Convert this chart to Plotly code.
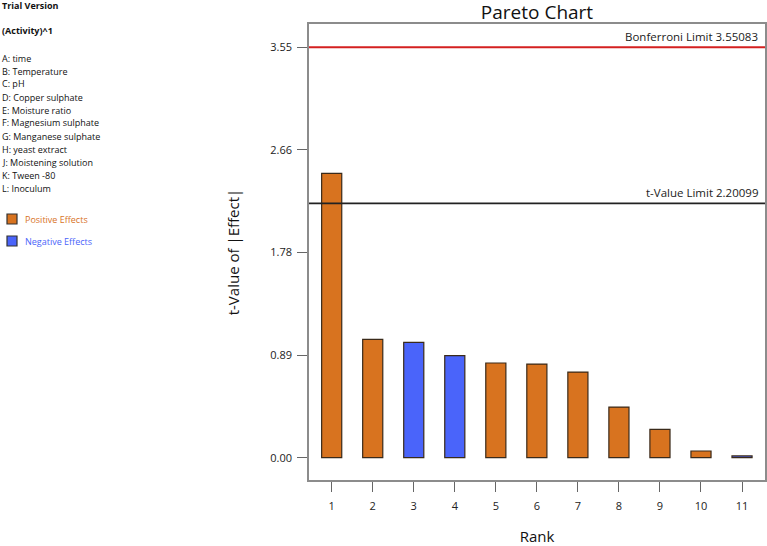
import plotly.graph_objects as go

# ---- data ----
ranks = [1, 2, 3, 4, 5, 6, 7, 8, 9, 10, 11]
t_values = [2.460, 1.024, 0.998, 0.883, 0.819, 0.810, 0.741, 0.438, 0.245, 0.058, 0.015]
effect_sign = ["pos", "pos", "neg", "neg", "pos", "pos", "pos", "pos", "pos", "pos", "neg"]
bonferroni_limit = 3.55083
t_value_limit = 2.20099
ytick_vals = [0.0, 0.887708, 1.775415, 2.663123, 3.55083]
ytick_text = ["0.00", "0.89", "1.78", "2.66", "3.55"]
factor_labels = ["A: time", "B: Temperature", "C: pH", "D: Copper sulphate",
                 "E: Moisture ratio", "F: Magnesium sulphate", "G: Manganese sulphate",
                 "H: yeast extract", "J: Moistening solution", "K: Tween -80", "L: Inoculum"]

ORANGE = "#D8731F"
BLUE = "#4A64FA"
FONT = "Open Sans"

W, H = 767, 546
ML, MR, MT, MB = 309, 2, 24, 66
PW, PH = W - ML - MR, H - MT - MB


def px(x):
    return (x - ML) / PW


def py(y):
    return (H - MB - y) / PH


colors = [ORANGE if s == "pos" else BLUE for s in effect_sign]

fig = go.Figure()
fig.add_trace(go.Bar(x=ranks, y=t_values, width=0.49,
                     marker=dict(color=colors, line=dict(color="#3a2a1a", width=1.2)),
                     showlegend=False, hoverinfo="skip"))

fig.add_hline(y=bonferroni_limit, line=dict(color="#D42020", width=2))
fig.add_hline(y=t_value_limit, line=dict(color="#222222", width=1.8))

annotations = [
    dict(x=1, xref="paper", y=bonferroni_limit, yref="y", xanchor="right", yanchor="bottom",
         text="Bonferroni Limit %.5f" % bonferroni_limit, showarrow=False, xshift=-5, yshift=1,
         font=dict(family=FONT, size=11.5, color="#222")),
    dict(x=1, xref="paper", y=t_value_limit, yref="y", xanchor="right", yanchor="bottom",
         text="t-Value Limit %.5f" % t_value_limit, showarrow=False, xshift=-5, yshift=1,
         font=dict(family=FONT, size=11.5, color="#222")),
    dict(x=px(0), xref="paper", y=py(6), yref="paper", xanchor="left", yanchor="middle",
         text="<b>Trial Version</b>", showarrow=False, font=dict(family=FONT, size=9, color="#111")),
    dict(x=px(0), xref="paper", y=py(31), yref="paper", xanchor="left", yanchor="middle",
         text="<b>(Activity)^1</b>", showarrow=False, font=dict(family=FONT, size=9, color="#111")),
]
for i, lab in enumerate(factor_labels):
    annotations.append(dict(x=px(0), xref="paper", y=py(58 + 13 * i), yref="paper",
                            xanchor="left", yanchor="middle", text=lab, showarrow=False,
                            font=dict(family=FONT, size=9, color="#111")))
annotations.append(dict(x=px(23), xref="paper", y=py(219), yref="paper", xanchor="left",
                        yanchor="middle", text="Positive Effects", showarrow=False,
                        font=dict(family=FONT, size=9, color=ORANGE)))
annotations.append(dict(x=px(23), xref="paper", y=py(241), yref="paper", xanchor="left",
                        yanchor="middle", text="Negative Effects", showarrow=False,
                        font=dict(family=FONT, size=9, color=BLUE)))

shapes = [
    dict(type="rect", xref="paper", yref="paper", x0=px(7), x1=px(17), y0=py(224), y1=py(214),
         fillcolor=ORANGE, line=dict(color="#333", width=1.2)),
    dict(type="rect", xref="paper", yref="paper", x0=px(7), x1=px(17), y0=py(246), y1=py(236),
         fillcolor=BLUE, line=dict(color="#333", width=1.2)),
]
for s in shapes:
    fig.add_shape(**s)

fig.update_layout(
    width=W, height=H,
    margin=dict(l=ML, r=MR, t=MT, b=MB, autoexpand=False),
    paper_bgcolor="white", plot_bgcolor="white",
    font=dict(family=FONT, color="#222"),
    title=dict(text="Pareto Chart", xref="paper", x=0.5, xanchor="center",
               yref="container", y=1 - 12 / H, yanchor="middle",
               font=dict(family=FONT, size=19, color="#111")),
    annotations=annotations,
    bargap=0.5,
)
fig.update_xaxes(range=[0.447, 11.56], tickvals=ranks, ticktext=[str(r) for r in ranks],
                 ticks="outside", ticklen=10, tickcolor="#666", tickwidth=1.2,
                 ticklabelstandoff=5, automargin=False,
                 showline=True, linecolor="#8c8c8c", linewidth=1.5, mirror=True,
                 showgrid=False, zeroline=False,
                 tickfont=dict(family=FONT, size=11, color="#222"),
                 title=dict(text="Rank", font=dict(family=FONT, size=15, color="#111"), standoff=30))
fig.update_yaxes(range=[-0.193, 3.752], tickvals=ytick_vals, ticktext=ytick_text,
                 ticks="outside", ticklen=10, tickcolor="#666", tickwidth=1.2,
                 ticklabelstandoff=3, automargin=False,
                 showline=True, linecolor="#8c8c8c", linewidth=1.5, mirror=True,
                 showgrid=False, zeroline=False,
                 tickfont=dict(family=FONT, size=11, color="#222"),
                 title=dict(text="t-Value of |Effect|", font=dict(family=FONT, size=15, color="#111"),
                            standoff=27))

fig.write_html("out.html", config={"displayModeBar": False},
               post_script="document.body.style.margin='0';document.body.style.padding='0';")
